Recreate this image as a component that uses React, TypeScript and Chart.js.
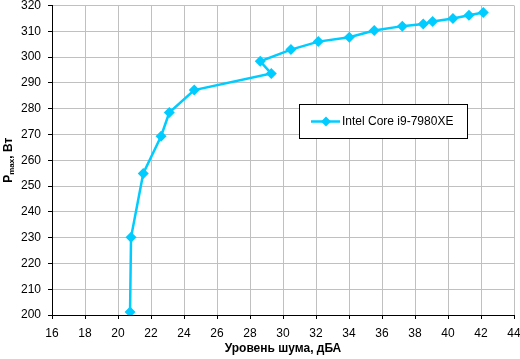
import React, { useEffect, useRef } from "react";
import { Chart, registerables } from "chart.js";

Chart.register(...registerables);

const noiseDbA: number[] = [20.73, 20.79, 21.53, 22.61, 23.11, 24.62, 29.29, 28.62, 30.48, 32.14, 34.02, 35.53, 37.23, 38.5, 39.07, 40.3, 41.27, 42.14];
const pmaxW: number[] = [201.2, 230.1, 254.9, 269.3, 278.5, 287.2, 293.6, 298.4, 302.9, 306.0, 307.7, 310.3, 312.0, 312.8, 313.8, 315.0, 316.2, 317.3];
const seriesName = "Intel Core i9-7980XE";
const xTitle = "Уровень шума, дБА";
const yTitleMain = "P";
const yTitleSub = "max";
const yTitleRest = ", Вт";

const COLOR = "#00CCFF";
const FONT = "Liberation Sans, Arial, sans-serif";

const customPlugin = {
  id: "customDecor",
  afterDraw(chart: any) {
    const ctx = chart.ctx as CanvasRenderingContext2D;
    const area = chart.chartArea;
    ctx.save();
    // X title
    ctx.fillStyle = "#000";
    ctx.font = `bold 12px ${FONT}`;
    ctx.textAlign = "center";
    ctx.textBaseline = "middle";
    ctx.fillText(xTitle, (area.left + area.right) / 2, 349);

    // Y title rotated with subscript
    ctx.translate(9, (area.top + area.bottom) / 2);
    ctx.rotate(-Math.PI / 2);
    ctx.textAlign = "left";
    ctx.textBaseline = "middle";
    const mainFont = `bold 12px ${FONT}`;
    const subFont = `bold 8px ${FONT}`;
    ctx.font = mainFont;
    const wP = ctx.measureText(yTitleMain).width;
    const wR = ctx.measureText(yTitleRest).width;
    ctx.font = subFont;
    const wS = ctx.measureText(yTitleSub).width;
    const total = wP + wS + wR;
    let x = -total / 2;
    ctx.font = mainFont;
    ctx.fillText(yTitleMain, x, 0);
    x += wP;
    ctx.font = subFont;
    ctx.fillText(yTitleSub, x, 3);
    x += wS;
    ctx.font = mainFont;
    ctx.fillText(yTitleRest, x, 0);
    ctx.restore();

    // Legend box
    ctx.save();
    const bx = 299.5, by = 104.5, bw = 168, bh = 34;
    ctx.fillStyle = "#fff";
    ctx.fillRect(bx, by, bw, bh);
    ctx.strokeStyle = "#000";
    ctx.lineWidth = 1;
    ctx.strokeRect(bx, by, bw, bh);
    const ly = by + bh / 2;
    ctx.strokeStyle = COLOR;
    ctx.lineWidth = 2.5;
    ctx.beginPath();
    ctx.moveTo(311, ly);
    ctx.lineTo(340, ly);
    ctx.stroke();
    ctx.fillStyle = COLOR;
    ctx.beginPath();
    const cx = 326, r = 5;
    ctx.moveTo(cx, ly - r);
    ctx.lineTo(cx + r, ly);
    ctx.lineTo(cx, ly + r);
    ctx.lineTo(cx - r, ly);
    ctx.closePath();
    ctx.fill();
    ctx.fillStyle = "#000";
    ctx.font = `12px ${FONT}`;
    ctx.textAlign = "left";
    ctx.textBaseline = "middle";
    ctx.fillText(seriesName, 342, ly + 0.5);
    ctx.restore();
  },
};

export default function App() {
  const ref = useRef<HTMLCanvasElement | null>(null);
  useEffect(() => {
    document.body.style.margin = "0";
    const canvas = ref.current;
    if (!canvas) return;
    const data = noiseDbA.map((x, i) => ({ x, y: pmaxW[i] }));
    const chart = new Chart(canvas, {
      type: "line",
      data: {
        datasets: [
          {
            label: seriesName,
            data,
            borderColor: COLOR,
            backgroundColor: COLOR,
            borderWidth: 2.5,
            pointStyle: "rectRot",
            pointRadius: 5.5,
            pointHoverRadius: 5.5,
            pointBorderWidth: 0,
            fill: false,
            tension: 0,
          },
        ],
      },
      options: {
        responsive: false,
        animation: false,
        layout: { padding: { top: 5, right: 6, left: 0, bottom: 0 } },
        plugins: {
          legend: { display: false },
          tooltip: { enabled: false },
          title: { display: false },
        },
        scales: {
          x: {
            type: "linear",
            min: 16,
            max: 44,
            afterFit: (s: any) => {
              s.height = 44;
              s.paddingLeft = 0;
              s.paddingRight = 0;
            },
            ticks: {
              stepSize: 2,
              color: "#000",
              font: { family: FONT, size: 12 },
              padding: 7,
              maxRotation: 0,
              autoSkip: false,
            },
            grid: {
              color: "#c0c0c0",
              lineWidth: 1,
              tickColor: "#000",
              tickLength: 4,
              drawTicks: true,
            },
            border: { color: "#000", width: 1 },
          },
          y: {
            type: "linear",
            min: 200,
            max: 320,
            afterFit: (s: any) => {
              s.width = 52;
              s.paddingTop = 0;
              s.paddingBottom = 0;
            },
            ticks: {
              stepSize: 10,
              color: "#000",
              font: { family: FONT, size: 12 },
              padding: 7,
            },
            grid: {
              color: "#c0c0c0",
              lineWidth: 1,
              tickColor: "#000",
              tickLength: 4,
            },
            border: { color: "#000", width: 1 },
          },
        },
      },
      plugins: [customPlugin],
    });
    return () => chart.destroy();
  }, []);
  return <canvas ref={ref} width={520} height={359} style={{ display: "block" }} />;
}
